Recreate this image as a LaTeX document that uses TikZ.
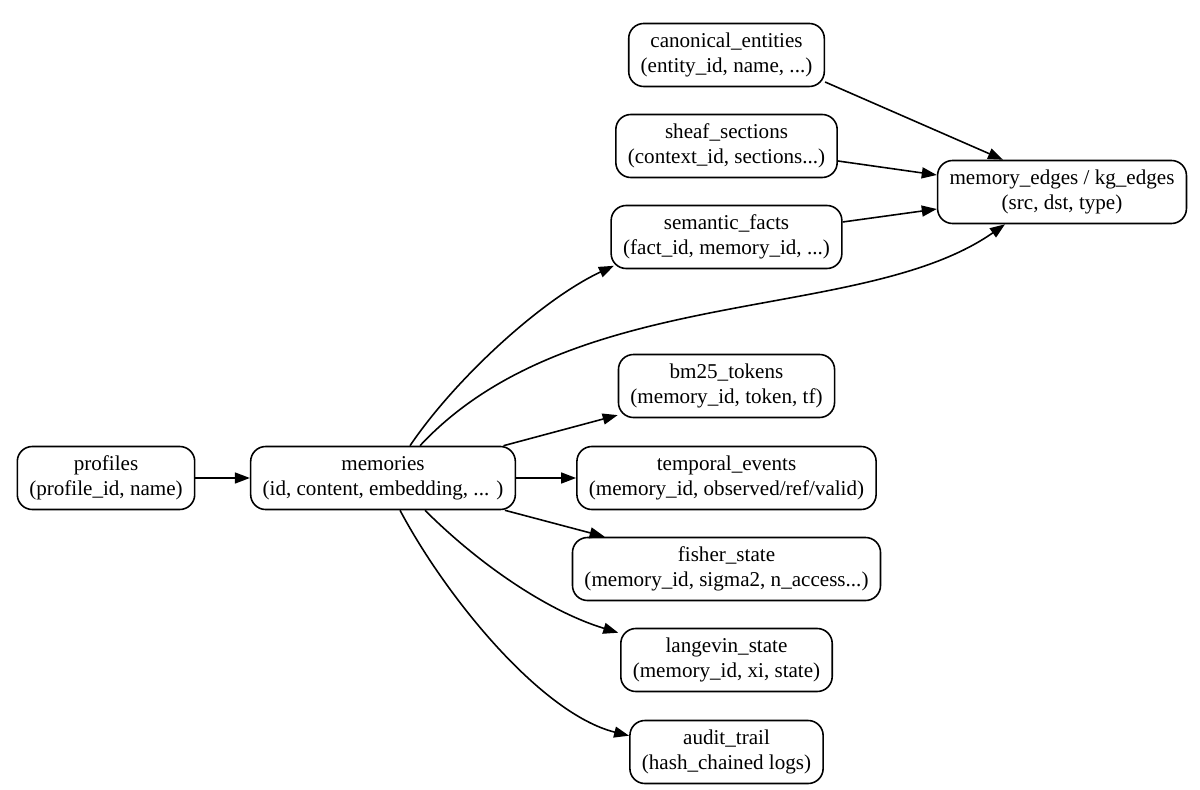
\documentclass[tikz,border=0pt]{standalone}
\usepackage{fontspec}
\setmainfont{Liberation Serif}
\usetikzlibrary{arrows.meta}
\tikzset{
  every picture/.style={>={Triangle[length=0.3cm,width=0.22cm]}, font=\fontsize{12}{14.2}\selectfont},
  tbl/.style={draw, line width=0.9pt, rounded corners=0.3cm, align=center,
    minimum height=1.26cm, inner xsep=0.24cm, inner ysep=0.1cm},
  rel/.style={->, line width=0.9pt},
}
\def\xr{14.53}

\begin{document}
\begin{tikzpicture}
  \path[use as bounding box] (0,0) rectangle (24,15.78);
  % tables
  \node[tbl] (profiles) at (2.12,6.22) {profiles\\(profile\_id, name)};
  \node[tbl] (memories) at (7.66,6.22) {memories\\(id, content, embedding, ... )};
  \node[tbl] (canonical) at (\xr,14.68) {canonical\_entities\\(entity\_id, name, ...)};
  \node[tbl] (sheaf) at (\xr,12.86) {sheaf\_sections\\(context\_id, sections...)};
  \node[tbl] (semantic) at (\xr,11.04) {semantic\_facts\\(fact\_id, memory\_id, ...)};
  \node[tbl] (edges) at (21.24,11.94) {memory\_edges / kg\_edges\\(src, dst, type)};
  \node[tbl] (bm25) at (\xr,8.06) {bm25\_tokens\\(memory\_id, token, tf)};
  \node[tbl] (temporal) at (\xr,6.22) {temporal\_events\\(memory\_id, observed/ref/valid)};
  \node[tbl] (fisher) at (\xr,4.40) {fisher\_state\\(memory\_id, sigma2, n\_access...)};
  \node[tbl] (langevin) at (\xr,2.58) {langevin\_state\\(memory\_id, xi, state)};
  \node[tbl] (audit) at (\xr,0.74) {audit\_trail\\(hash\_chained logs)};
  % links
  \draw[rel] (profiles) -- (memories);
  \draw[rel] ([xshift=0.54cm]memories.north) .. controls +(56:1.6) and +(205:1.6) .. ([xshift=2pt,yshift=2pt]semantic.south west);
  \draw[rel] ([xshift=0.74cm]memories.north) .. controls +(47:4.5) and +(215:3.5) .. ([xshift=-1.14cm]edges.south);
  \draw[rel] (memories) -- (bm25);
  \draw[rel] (memories) -- (temporal);
  \draw[rel] (memories) -- (fisher);
  \draw[rel] ([xshift=0.84cm]memories.south) .. controls +(-45:1.5) and +(163:1.5) .. ([xshift=-1pt,yshift=-0.1cm]langevin.north west);
  \draw[rel] ([xshift=0.34cm]memories.south) .. controls +(-62:2) and +(166:1.8) .. ([yshift=-0.32cm]audit.north west);
  \draw[rel] ([yshift=-0.54cm]canonical.east) -- ([xshift=-1.18cm]edges.north);
  \draw[rel] ([yshift=-0.3cm]sheaf.east) -- ([yshift=0.34cm]edges.west);
  \draw[rel] ([yshift=0.3cm]semantic.east) -- ([yshift=-0.34cm]edges.west);
\end{tikzpicture}
\end{document}
